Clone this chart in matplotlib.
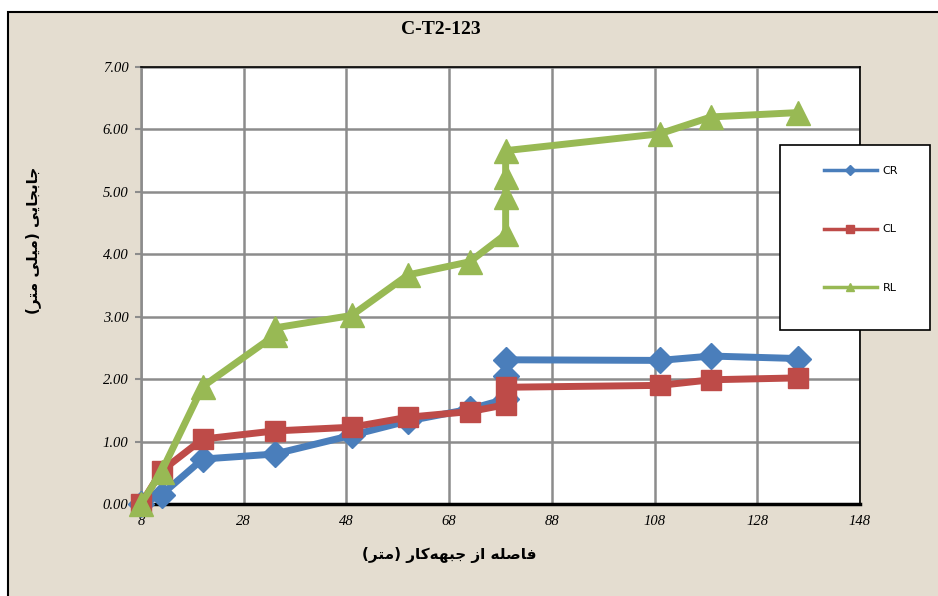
import matplotlib
matplotlib.use("Agg")
import matplotlib.pyplot as plt
from matplotlib.patches import Rectangle
from matplotlib.lines import Line2D

# data
cr_x = [8, 12, 20, 34, 49, 60, 72, 79, 79, 79, 109, 119, 136]
cr_y = [0.00, 0.15, 0.72, 0.80, 1.10, 1.33, 1.52, 1.68, 2.05, 2.31, 2.30, 2.37, 2.33]

cl_x = [8, 12, 20, 34, 49, 60, 72, 79, 79, 109, 119, 136]
cl_y = [0.00, 0.53, 1.04, 1.17, 1.23, 1.39, 1.48, 1.59, 1.87, 1.90, 1.99, 2.02]

rl_x = [8, 12, 20, 34, 34, 49, 60, 72, 79, 79, 79, 79, 109, 119, 136]
rl_y = [0.00, 0.52, 1.88, 2.70, 2.82, 3.02, 3.67, 3.88, 4.32, 4.92, 5.24, 5.66, 5.93, 6.20, 6.27]

x_ticks = [8, 28, 48, 68, 88, 108, 128, 148]
y_ticks = [0, 1, 2, 3, 4, 5, 6, 7]

title = "C-T2-123"
x_label = "فاصله از جبهه\u200cکار (متر)"
y_label = "جابجایی (میلی متر)"

BLUE = "#4a7ebb"
RED = "#be4b48"
GREEN = "#98b954"

# matplotlib does no arabic shaping, so pick the presentation forms by hand
FORMS = {
    'ا': ('\uFE8D', '\uFE8E', None, None),
    'ب': ('\uFE8F', '\uFE90', '\uFE91', '\uFE92'),
    'ت': ('\uFE95', '\uFE96', '\uFE97', '\uFE98'),
    'ج': ('\uFE9D', '\uFE9E', '\uFE9F', '\uFEA0'),
    'ر': ('\uFEAD', '\uFEAE', None, None),
    'ز': ('\uFEAF', '\uFEB0', None, None),
    'ص': ('\uFEB9', '\uFEBA', '\uFEBB', '\uFEBC'),
    'ف': ('\uFED1', '\uFED2', '\uFED3', '\uFED4'),
    'ل': ('\uFEDD', '\uFEDE', '\uFEDF', '\uFEE0'),
    'م': ('\uFEE1', '\uFEE2', '\uFEE3', '\uFEE4'),
    'ه': ('\uFEE9', '\uFEEA', '\uFEEB', '\uFEEC'),
    'ک': ('\uFB8E', '\uFB8F', '\uFB90', '\uFB91'),
    'ی': ('\uFBFC', '\uFBFD', '\uFBFE', '\uFBFF'),
}


def shape(text):
    out = []
    for i, ch in enumerate(text):
        if ch == '\u200c':
            continue
        if ch not in FORMS:
            out.append(ch)
            continue
        prev = text[i - 1] if i > 0 else ''
        nxt = text[i + 1] if i + 1 < len(text) else ''
        iso, fin, ini, med = FORMS[ch]
        joins_prev = prev in FORMS and FORMS[prev][2] is not None
        joins_next = nxt in FORMS and ini is not None
        if joins_prev and joins_next:
            out.append(med)
        elif joins_prev:
            out.append(fin)
        elif joins_next:
            out.append(ini)
        else:
            out.append(iso)
    mirror = {'(': ')', ')': '('}
    return ''.join(mirror.get(c, c) for c in reversed(out))


W, H = 938, 596
fig = plt.figure(figsize=(W / 100, H / 100), dpi=100)
fig.patch.set_facecolor("white")

# beige chart area with black frame (runs off the right and bottom edge)
fig.patches.append(Rectangle((8 / W, -0.05), 1.0, 1 - 12 / H + 0.05,
                             transform=fig.transFigure, facecolor="#e4ddd0",
                             edgecolor="black", linewidth=1.5, zorder=-5))

ax = fig.add_axes([141 / W, 1 - 504 / H, 719 / W, 437 / H])
ax.set_facecolor("white")

ax.plot(cr_x, cr_y, color=BLUE, linewidth=5, marker="D", markersize=13,
        label="CR", zorder=3)
ax.plot(cl_x, cl_y, color=RED, linewidth=5, marker="s", markersize=15,
        label="CL", zorder=4)
ax.plot(rl_x, rl_y, color=GREEN, linewidth=5, marker="^", markersize=17,
        label="RL", zorder=5)

ax.set_xlim(8, 148)
ax.set_ylim(0, 7)
ax.set_xticks(x_ticks)
ax.set_yticks(y_ticks)
ax.set_xticklabels([str(t) for t in x_ticks], family="Liberation Serif",
                   style="italic", fontsize=10.5)
ax.set_yticklabels(["%.2f" % t for t in y_ticks], family="Liberation Serif",
                   style="italic", fontsize=10.5)
ax.tick_params(axis="both", length=4, color="#8c8c8c", width=1.5, pad=5)
ax.tick_params(axis="x", length=0, pad=8)
ax.grid(True, color="#8c8c8c", linewidth=1.8)
ax.set_axisbelow(True)

ax.spines["left"].set_color("#8c8c8c")
ax.spines["left"].set_linewidth(1.8)
ax.spines["bottom"].set_color("black")
ax.spines["bottom"].set_linewidth(2.5)
ax.spines["bottom"].set_zorder(2.5)
ax.spines["top"].set_linewidth(1.2)
ax.spines["right"].set_linewidth(1.2)

for line in ax.lines:
    line.set_clip_on(False)

fig.text(441 / W, 1 - 30 / H, title, family="Liberation Serif",
         fontweight="bold", fontsize=14, ha="center", va="center")
fig.text(449 / W, 1 - 555 / H, shape(x_label), family="DejaVu Sans",
         fontweight="bold", fontsize=11, ha="center", va="center")
fig.text(33 / W, 1 - 240 / H, shape(y_label), family="DejaVu Sans",
         fontweight="bold", fontsize=11, ha="center", va="center",
         rotation=90)

# legend box
fig.patches.append(Rectangle((780 / W, 1 - 330 / H), 150 / W, 185 / H,
                             transform=fig.transFigure, facecolor="white",
                             edgecolor="black", linewidth=1.2, zorder=3))
handles = [
    Line2D([], [], color=BLUE, linewidth=2.5, marker="D", markersize=5),
    Line2D([], [], color=RED, linewidth=2.5, marker="s", markersize=6),
    Line2D([], [], color=GREEN, linewidth=2.5, marker="^", markersize=6),
]
leg = fig.legend(handles, ["CR", "CL", "RL"], loc="upper left",
                 bbox_to_anchor=(818 / W, 1 - 160 / H), frameon=False,
                 fontsize=8, handlelength=4.8, handletextpad=0.5,
                 labelspacing=4.4, borderpad=0)
leg.set_zorder(6)

fig.savefig("out.png", dpi=100)
